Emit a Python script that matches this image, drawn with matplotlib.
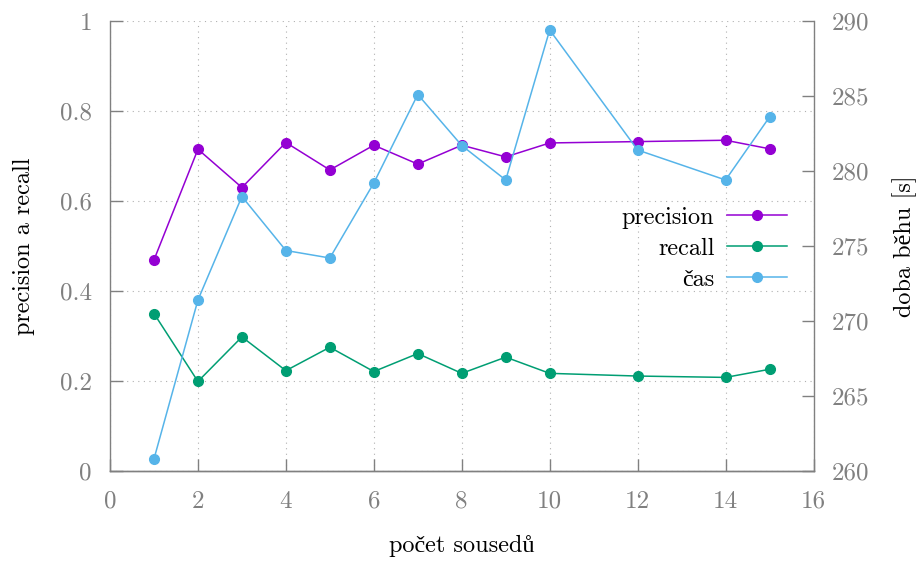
import matplotlib
matplotlib.use("Agg")
import matplotlib.pyplot as plt

k = [1, 2, 3, 4, 5, 6, 7, 8, 9, 10, 12, 14, 15]
precision = [0.469, 0.715, 0.630, 0.730, 0.669, 0.724, 0.682, 0.724, 0.698, 0.729, 0.732, 0.735, 0.716]
recall = [0.350, 0.199, 0.298, 0.223, 0.275, 0.221, 0.261, 0.217, 0.253, 0.217, 0.211, 0.208, 0.226]
cas = [260.8, 271.4, 278.3, 274.7, 274.2, 279.2, 285.1, 281.7, 279.4, 289.4, 281.4, 279.4, 283.6]

xticks = [0, 2, 4, 6, 8, 10, 12, 14, 16]
yticks = [0, 0.2, 0.4, 0.6, 0.8, 1]
y2ticks = [260, 265, 270, 275, 280, 285, 290]

C_P = "#9400d3"
C_R = "#009e73"
C_C = "#56b4e9"
GRAY = "#808080"

plt.rcParams['font.family'] = ['cmr10', 'Liberation Serif']
plt.rcParams['axes.formatter.use_mathtext'] = True
FS = 17.5
TFS = 18

fig = plt.figure(figsize=(9.17, 5.63), dpi=100)
ax = fig.add_axes([110/917, 1-471/563, (813.5-110)/917, (471-21)/563])
ax2 = ax.twinx()

lp, = ax.plot(k, precision, color=C_P, marker='o', ms=7, lw=1.1, label='precision')
lr, = ax.plot(k, recall, color=C_R, marker='o', ms=7, lw=1.1, label='recall')
lc, = ax2.plot(k, cas, color=C_C, marker='o', ms=7, lw=1.1, label='čas')

ax.set_xlim(0, 16)
ax.set_ylim(0, 1)
ax2.set_ylim(260, 290)
ax.set_xticks(xticks)
ax.set_xticklabels([str(v) for v in xticks])
ax.set_yticks(yticks)
ax.set_yticklabels(['0', '0.2', '0.4', '0.6', '0.8', '1'])
ax2.set_yticks(y2ticks)
ax2.set_yticklabels([str(v) for v in y2ticks])

ax.grid(True, linestyle=(0, (1, 4)), color='#b0b0b0', lw=0.8)
for a in (ax, ax2):
    a.spines['top'].set_visible(False)
    for s in ('left', 'right', 'bottom'):
        a.spines[s].set_color(GRAY)
        a.spines[s].set_linewidth(1.0)
    a.tick_params(direction='in', length=9, width=1, colors=GRAY, labelsize=TFS, labelcolor=GRAY)
ax2.spines['left'].set_visible(False)
ax.spines['right'].set_visible(False)
ax.tick_params(axis='x', pad=14)
ax.tick_params(axis='y', pad=13)
ax2.tick_params(axis='y', pad=13)

ax.set_xlabel('počet sousedů', fontsize=FS, labelpad=16)
ax.set_ylabel('precision a recall', fontsize=FS, labelpad=18)
ax2.set_ylabel('doba běhu [s]', fontsize=FS, labelpad=17)

leg = ax2.legend(handles=[lp, lr, lc], loc='center right', bbox_to_anchor=(0.994, 0.494),
                 frameon=False, markerfirst=False, fontsize=FS, handlelength=2.5,
                 labelspacing=0.37, handletextpad=0.5)
for t in leg.get_texts():
    t.set_ha('right')
leg._legend_box.align = 'right'

fig.savefig('out.png', dpi=100)
